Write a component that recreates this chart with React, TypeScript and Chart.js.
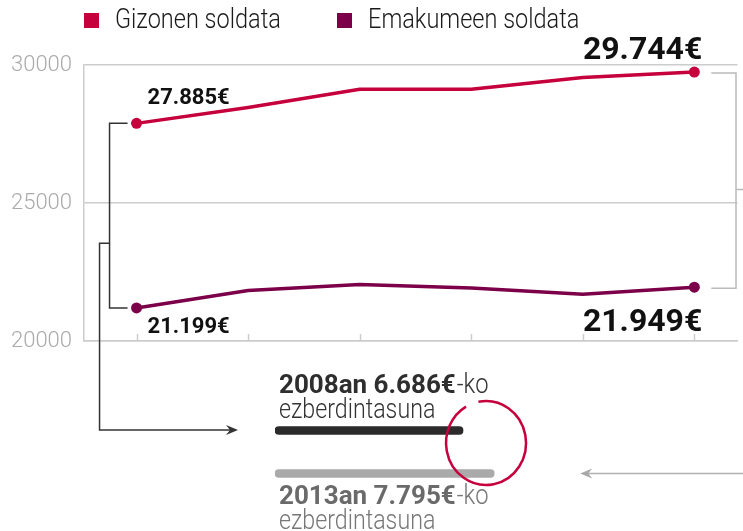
import { useEffect, useRef } from 'react';
import { Chart, registerables } from 'chart.js';

Chart.register(...registerables);

const years = [2008, 2009, 2010, 2011, 2012, 2013];
const menSalary = [27885, 28460, 29120, 29120, 29550, 29744];
const womenSalary = [21199, 21830, 22050, 21920, 21690, 21949];
const seriesLabels = ['Gizonen soldata', 'Emakumeen soldata'];
const yTicks = [20000, 25000, 30000];
const gapWord = 'ezberdintasuna';

const RED = '#c5003c';
const PURPLE = '#7b0049';
const GRID = '#cccccc';
const FONT = 'Roboto, "Noto Sans", sans-serif';

const fmt = (v: number) => String(Math.round(v)).replace(/\B(?=(\d{3})+(?!\d))/g, '.');
const last = years.length - 1;
const gaps = [menSalary[0] - womenSalary[0], menSalary[last] - womenSalary[last]];
const gapYears = [String(years[0]), String(years[last])];

function arrowHead(ctx: CanvasRenderingContext2D, tipX: number, tipY: number, dir: number, color: string) {
  ctx.save();
  ctx.fillStyle = color;
  ctx.beginPath();
  ctx.moveTo(tipX, tipY);
  ctx.lineTo(tipX - dir * 12, tipY - 5);
  ctx.lineTo(tipX - dir * 8, tipY);
  ctx.lineTo(tipX - dir * 12, tipY + 5);
  ctx.closePath();
  ctx.fill();
  ctx.restore();
}

function condensedText(ctx: CanvasRenderingContext2D, text: string, x: number, y: number, sx: number) {
  ctx.save();
  ctx.translate(x, y);
  ctx.scale(sx, 1);
  ctx.fillText(text, 0, 0);
  ctx.restore();
}

const mainAnnotations = {
  id: 'mainAnnotations',
  afterDraw(chart: any) {
    const { ctx, scales, chartArea } = chart;
    const x = scales.x;
    const y = scales.y;
    ctx.save();

    // tick marks pointing up from the axis
    ctx.strokeStyle = GRID;
    ctx.lineWidth = 1.5;
    years.forEach((yr) => {
      const px = Math.round(x.getPixelForValue(yr)) + 0.5;
      ctx.beginPath();
      ctx.moveTo(px, chartArea.bottom);
      ctx.lineTo(px, chartArea.bottom - 7);
      ctx.stroke();
    });

    // legend
    const colors = [RED, PURPLE];
    const legendX = [84, 337];
    ctx.font = `300 28px ${FONT}`;
    ctx.textBaseline = 'alphabetic';
    ctx.textAlign = 'left';
    seriesLabels.forEach((lab, i) => {
      ctx.fillStyle = colors[i];
      ctx.fillRect(legendX[i], 13, 15, 15);
      ctx.fillStyle = '#1a1a1a';
      condensedText(ctx, lab, legendX[i] + 31, 28, 0.84);
    });

    // value labels
    const x0 = x.getPixelForValue(years[0]);
    const xl = x.getPixelForValue(years[last]);
    const ym0 = y.getPixelForValue(menSalary[0]);
    const yw0 = y.getPixelForValue(womenSalary[0]);
    const yml = y.getPixelForValue(menSalary[last]);
    const ywl = y.getPixelForValue(womenSalary[last]);
    ctx.fillStyle = '#111111';
    ctx.font = `bold 22px ${FONT}`;
    ctx.textAlign = 'left';
    ctx.fillText(fmt(menSalary[0]) + '€', x0 + 11, ym0 - 19);
    ctx.fillText(fmt(womenSalary[0]) + '€', x0 + 11, yw0 + 25);
    ctx.font = `bold 32px ${FONT}`;
    ctx.textAlign = 'right';
    ctx.fillText(fmt(menSalary[last]) + '€', xl + 8, yml - 13);
    ctx.fillText(fmt(womenSalary[last]) + '€', xl + 8, ywl + 44);

    // left bracket
    ctx.strokeStyle = '#333333';
    ctx.lineWidth = 1.5;
    const bx = x0 - 27;
    const midL = ym0 + (yw0 - ym0) * 0.65;
    const arrowY = chartArea.bottom + 89;
    ctx.beginPath();
    ctx.moveTo(x0 - 9, ym0);
    ctx.lineTo(bx, ym0);
    ctx.lineTo(bx, yw0);
    ctx.lineTo(x0 - 9, yw0);
    ctx.moveTo(bx, midL);
    ctx.lineTo(bx - 10, midL);
    ctx.lineTo(bx - 10, arrowY);
    ctx.lineTo(235, arrowY);
    ctx.stroke();
    arrowHead(ctx, 238, arrowY, 1, '#333333');

    // right bracket
    ctx.strokeStyle = '#bbbbbb';
    const rx = 736;
    const midR = yml + (ywl - yml) * 0.546;
    ctx.beginPath();
    ctx.moveTo(xl + 17, yml + 1);
    ctx.lineTo(rx, yml + 1);
    ctx.lineTo(rx, ywl + 1);
    ctx.lineTo(xl + 17, ywl + 1);
    ctx.moveTo(rx, midR);
    ctx.lineTo(743, midR);
    ctx.stroke();

    ctx.restore();
  },
};

const gapAnnotations = {
  id: 'gapAnnotations',
  afterDraw(chart: any) {
    const { ctx, scales } = chart;
    const x = scales.x;
    const y = scales.y;
    const left = x.getPixelForValue(0) + 4;
    const y0 = y.getPixelForValue(0);
    const y1 = y.getPixelForValue(1);
    ctx.save();
    ctx.textAlign = 'left';
    ctx.textBaseline = 'alphabetic';

    const drawLabel = (i: number, base: number, colBold: string, colLight: string) => {
      const bold = `${gapYears[i]}an ${fmt(gaps[i])}€`;
      ctx.font = `bold 26px ${FONT}`;
      ctx.fillStyle = colBold;
      ctx.fillText(bold, left, base);
      const w = ctx.measureText(bold).width;
      ctx.font = `300 27px ${FONT}`;
      ctx.fillStyle = colLight;
      condensedText(ctx, '-ko', left + w + 1, base, 0.88);
      ctx.font = `300 27px ${FONT}`;
      condensedText(ctx, gapWord, left, base + 25, 0.86);
    };
    drawLabel(0, y0 - 38, '#2e2e2e', '#333333');
    drawLabel(1, y1 + 30, '#6a6a6a', '#777777');

    // hand drawn circle around the first gap's end
    const cx = x.getPixelForValue(gaps[0]) + 23;
    const cy = (y0 + y1) / 2 - 9;
    ctx.strokeStyle = RED;
    ctx.lineWidth = 2.5;
    ctx.beginPath();
    ctx.ellipse(cx, cy, 40, 42, 0, (-101 * Math.PI) / 180, (-120 * Math.PI) / 180, false);
    ctx.stroke();

    // right grey arrow
    const tip = x.getPixelForValue(gaps[1]) + 86;
    ctx.strokeStyle = '#b0b0b0';
    ctx.lineWidth = 1.5;
    ctx.beginPath();
    ctx.moveTo(743, y1);
    ctx.lineTo(tip + 6, y1);
    ctx.stroke();
    arrowHead(ctx, tip, y1, -1, '#a8a8a8');
    ctx.restore();
  },
};

export default function App() {
  const mainRef = useRef<HTMLCanvasElement>(null);
  const gapRef = useRef<HTMLCanvasElement>(null);

  useEffect(() => {
    const pointR = (c: any) => (c.dataIndex === 0 || c.dataIndex === last ? 5.5 : 0);
    const main = new Chart(mainRef.current as HTMLCanvasElement, {
      type: 'line',
      data: {
        datasets: [
          {
            label: seriesLabels[0],
            data: years.map((yr, i) => ({ x: yr, y: menSalary[i] })),
            borderColor: RED,
            backgroundColor: RED,
            borderWidth: 3.5,
            pointRadius: pointR,
            pointBorderWidth: 0,
            pointBackgroundColor: RED,
            tension: 0,
          },
          {
            label: seriesLabels[1],
            data: years.map((yr, i) => ({ x: yr, y: womenSalary[i] })),
            borderColor: PURPLE,
            backgroundColor: PURPLE,
            borderWidth: 3.5,
            pointRadius: pointR,
            pointBorderWidth: 0,
            pointBackgroundColor: PURPLE,
            tension: 0,
          },
        ],
      },
      options: {
        animation: false,
        responsive: false,
        events: [],
        layout: { padding: { top: 65, bottom: 190, left: 0, right: 0 } },
        plugins: { legend: { display: false }, tooltip: { enabled: false } },
        scales: {
          x: {
            type: 'linear',
            min: 2007.529,
            max: 2013.387,
            ticks: { display: false },
            grid: { drawOnChartArea: false, drawTicks: false, color: GRID },
            border: { display: true, color: GRID, width: 1.5 },
            afterFit: (s: any) => {
              s.height = 0;
            },
          },
          y: {
            min: yTicks[0],
            max: yTicks[yTicks.length - 1],
            afterBuildTicks: (s: any) => {
              s.ticks = yTicks.map((v) => ({ value: v }));
            },
            ticks: {
              callback: (v: any) => String(v),
              color: '#aaaaaa',
              font: { family: FONT, size: 22, weight: '300' as any },
              padding: 12,
            },
            grid: { color: GRID, lineWidth: 1.5, drawTicks: false },
            border: { display: true, color: GRID, width: 1.5 },
            afterFit: (s: any) => {
              s.width = 84;
            },
          },
        },
      },
      plugins: [mainAnnotations],
    });

    const gap = new Chart(gapRef.current as HTMLCanvasElement, {
      type: 'bar',
      data: {
        labels: gapYears,
        datasets: [
          {
            data: gaps,
            backgroundColor: ['#2b2b2b', '#aaaaaa'],
            barThickness: 8,
            borderRadius: 4,
            borderSkipped: false,
          },
        ],
      },
      options: {
        animation: false,
        responsive: false,
        events: [],
        indexAxis: 'y',
        layout: { padding: { left: 275, right: 243, top: 409, bottom: 36 } },
        plugins: { legend: { display: false }, tooltip: { enabled: false } },
        scales: {
          x: { type: 'linear', min: 0, max: 8000, display: false },
          y: { type: 'category', display: false, offset: true },
        },
      },
      plugins: [gapAnnotations],
    });

    return () => {
      main.destroy();
      gap.destroy();
    };
  }, []);

  return (
    <div style={{ position: 'fixed', left: 0, top: 0, width: 743, height: 531, background: '#ffffff', overflow: 'hidden' }}>
      <canvas ref={mainRef} width={743} height={531} style={{ position: 'absolute', left: 0, top: 0, width: 743, height: 531 }} />
      <canvas ref={gapRef} width={743} height={531} style={{ position: 'absolute', left: 0, top: 0, width: 743, height: 531 }} />
    </div>
  );
}
